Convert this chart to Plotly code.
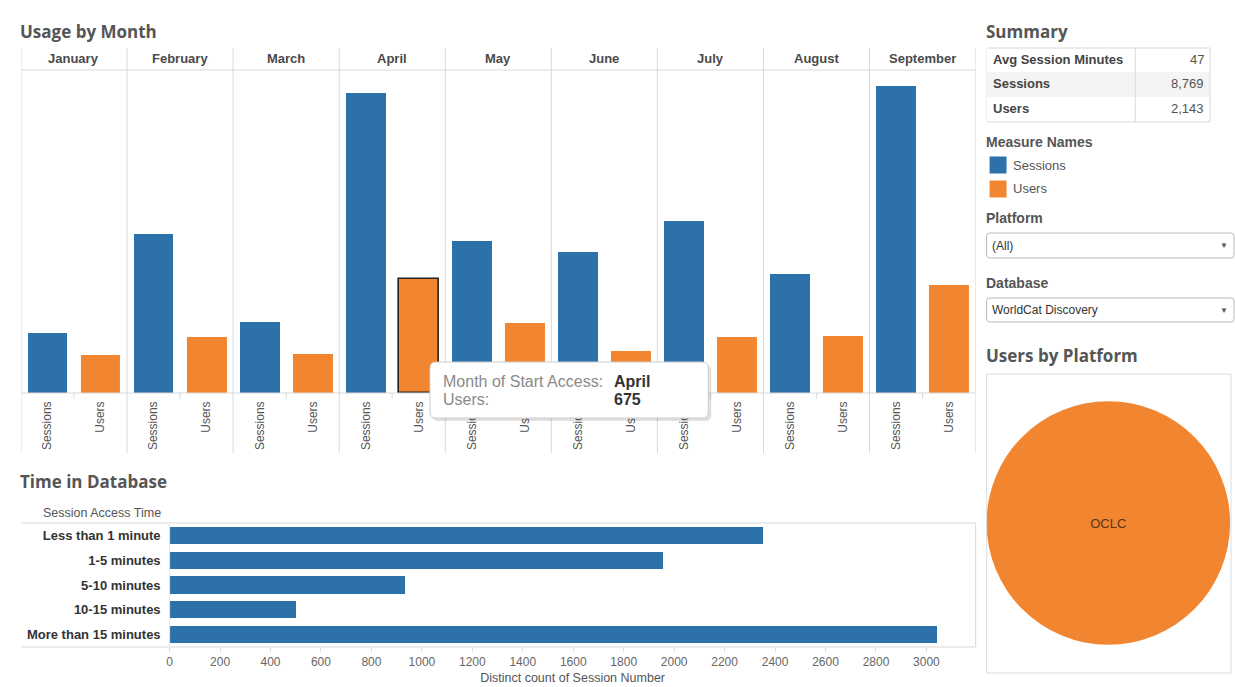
import plotly.graph_objects as go

W, H = 1235, 687


def X(px):
    return px / W


def Y(py):
    return 1 - py / H


# ---------------- data ----------------
months = ["January", "February", "March", "April", "May", "June", "July", "August", "September"]
measures = ["Sessions", "Users"]
sessions = [357, 939, 422, 1774, 901, 835, 1020, 702, 1819]
users = [223, 332, 231, 675, 412, 250, 332, 339, 641]

time_cats = ["Less than 1 minute", "1-5 minutes", "5-10 minutes", "10-15 minutes", "More than 15 minutes"]
time_counts = [2350, 1955, 930, 500, 3040]
time_ticks = list(range(0, 3001, 200))

summary_labels = ["Avg Session Minutes", "Sessions", "Users"]
summary_values = ["47", "8,769", "2,143"]

platforms = ["OCLC"]
platform_users = [2143]

platform_filter = "(All)"
database_filter = "WorldCat Discovery"

tooltip_month = "April"
tooltip_users = 675

# ---------------- styles ----------------
BLUE = "#2C71A9"
ORANGE = "#F2852F"
GRID = "#D9D9D9"
FONT = "Liberation Sans"
TFONT = "Open Sans"

fig = go.Figure()

n = len(months)
x_s = [2 * i + 0.5 for i in range(n)]
x_u = [2 * i + 1.5 for i in range(n)]

fig.add_trace(go.Bar(
    x=x_s, y=sessions, width=0.75, name="Sessions",
    marker=dict(color=BLUE, line=dict(width=0)),
    xaxis="x", yaxis="y", hoverinfo="skip", showlegend=False,
))
fig.add_trace(go.Bar(
    x=x_u, y=users, width=0.75, name="Users",
    marker=dict(color=ORANGE,
                line=dict(width=[1.6 if m == tooltip_month else 0 for m in months],
                          color="#222222")),
    xaxis="x", yaxis="y", hoverinfo="skip", showlegend=False,
))

fig.add_trace(go.Bar(
    x=time_counts, y=time_cats, orientation="h", width=0.7,
    marker=dict(color=BLUE, line=dict(width=0)),
    xaxis="x2", yaxis="y2", hoverinfo="skip", showlegend=False,
))

fig.add_trace(go.Pie(
    labels=platforms, values=platform_users,
    marker=dict(colors=[ORANGE], line=dict(width=0)),
    domain=dict(x=[X(986), X(1230)], y=[Y(645), Y(401)]),
    textinfo="label", textposition="inside", insidetextorientation="horizontal",
    textfont=dict(family=FONT, size=13, color="#5e3418"),
    sort=False, hoverinfo="skip", showlegend=False,
))

tickvals = []
ticktext = []
for i in range(n):
    tickvals += [x_s[i], x_u[i]]
    ticktext += measures

fig.update_layout(
    width=W, height=H,
    margin=dict(l=0, r=0, t=0, b=0),
    paper_bgcolor="white", plot_bgcolor="white",
    bargap=0, barmode="overlay",
    font=dict(family=FONT, size=12, color="#555555"),
    xaxis=dict(
        domain=[X(18), X(975)], range=[0, 2 * n], anchor="y",
        tickmode="array", tickvals=tickvals, ticktext=ticktext, tickangle=-90,
        tickfont=dict(family=FONT, size=12, color="#555555"),
        showgrid=False, zeroline=False, showline=False, ticks="",
        ticklabelstandoff=5, fixedrange=True,
    ),
    yaxis=dict(
        domain=[Y(393), Y(70)], range=[0, 1912], anchor="x",
        visible=False, fixedrange=True,
    ),
    xaxis2=dict(
        domain=[X(167), X(975)], range=[0, 3195], anchor="y2",
        tickmode="array", tickvals=time_ticks,
        tickfont=dict(family=FONT, size=12, color="#666666"),
        ticks="outside", ticklen=4, tickcolor="#DDDDDD",
        showgrid=False, zeroline=False, showline=False,
        title=dict(text="Distinct count of Session Number",
                   font=dict(family=FONT, size=12.5, color="#555555"), standoff=4),
        fixedrange=True,
    ),
    yaxis2=dict(
        domain=[Y(647), Y(523)], anchor="x2",
        categoryorder="array", categoryarray=time_cats, autorange="reversed",
        tickfont=dict(family=FONT, size=13, color="#333333", weight="bold"),
        showgrid=False, zeroline=False, showline=False, ticks="",
        ticklabelstandoff=8, fixedrange=True,
    ),
)

shapes = []
annotations = []


def hline(x0, x1, y, color=GRID, w=1):
    shapes.append(dict(type="line", xref="paper", yref="paper",
                       x0=X(x0), x1=X(x1), y0=Y(y), y1=Y(y),
                       line=dict(color=color, width=w)))


def vline(x, y0, y1, color=GRID, w=1):
    shapes.append(dict(type="line", xref="paper", yref="paper",
                       x0=X(x), x1=X(x), y0=Y(y0), y1=Y(y1),
                       line=dict(color=color, width=w)))


def text(x, y, s, size=12, color="#555555", bold=False, anchor="left", family=FONT, weight=None):
    shift = -2 if anchor == "left" else 0
    annotations.append(dict(
        x=X(x), y=Y(y), xref="paper", yref="paper", text=s, showarrow=False,
        xanchor=anchor, yanchor="middle", xshift=shift, borderpad=0,
        font=dict(family=family, size=size, color=color,
                  weight=weight if weight else ("bold" if bold else "normal")),
    ))


# ---- Usage by Month ----
text(18, 32, "Usage by Month", size=17, color="#555555", family=TFONT, weight=700)
hline(18, 975, 70)
hline(18, 975, 393)
for k in range(0, 2 * n + 1, 2):
    shapes.append(dict(type="line", xref="x", yref="paper", x0=k, x1=k,
                       y0=Y(453), y1=Y(48), line=dict(color=GRID, width=1)))
for k in range(1, 2 * n, 2):
    shapes.append(dict(type="line", xref="x", yref="paper", x0=k, x1=k,
                       y0=Y(399), y1=Y(393), line=dict(color=GRID, width=1)))
for i, m in enumerate(months):
    annotations.append(dict(x=2 * i + 1, y=Y(59), xref="x", yref="paper", text=m,
                            showarrow=False, xanchor="center", yanchor="middle",
                            font=dict(family=FONT, size=13, color="#4a4a4a", weight="bold")))

# ---- Time in Database ----
text(18, 481, "Time in Database", size=17, color="#555555", family=TFONT, weight=700)
text(159, 513, "Session Access Time", size=12.5, color="#555555", anchor="right")
hline(18, 975, 523)
hline(18, 975, 647)
vline(975, 523, 647)
vline(167, 523, 647, color="#E4E4E4")

# ---- Summary ----
text(986, 32, "Summary", size=17, color="#555555", family=TFONT, weight=700)
shapes.append(dict(type="rect", xref="paper", yref="paper",
                   x0=X(986), x1=X(1210), y0=Y(97), y1=Y(72),
                   fillcolor="#F4F4F4", line=dict(width=0), layer="below"))
hline(986, 1210, 48)
hline(986, 1210, 122)
vline(1135, 48, 122)
vline(1210, 48, 122)
vline(986, 48, 122, color="#EEEEEE")
row_y = [60, 84, 109]
for lab, val, yy in zip(summary_labels, summary_values, row_y):
    text(993, yy, lab, size=13, color="#444444", bold=True)
    text(1205, yy, val, size=13, color="#555555", anchor="right")

# ---- Legend ----
text(986, 142, "Measure Names", size=14, color="#555555", bold=True)
for (lab, col, yy) in [(measures[0], BLUE, 165), (measures[1], ORANGE, 189)]:
    shapes.append(dict(type="rect", xref="paper", yref="paper",
                       x0=X(989), x1=X(1006), y0=Y(yy + 8.5), y1=Y(yy - 8.5),
                       fillcolor=col, line=dict(width=0)))
    text(1013, yy, lab, size=13, color="#555555")


def rounded_rect(x0, y0, x1, y1, r, fill, line_color, lw=1):
    rx, ry = r / W, r / H
    a0, a1 = X(x0), X(x1)
    b0, b1 = Y(y0), Y(y1)
    path = (f"M {a0 + rx},{b0} L {a1 - rx},{b0} Q {a1},{b0} {a1},{b0 - ry} "
            f"L {a1},{b1 + ry} Q {a1},{b1} {a1 - rx},{b1} "
            f"L {a0 + rx},{b1} Q {a0},{b1} {a0},{b1 + ry} "
            f"L {a0},{b0 - ry} Q {a0},{b0} {a0 + rx},{b0} Z")
    shapes.append(dict(type="path", xref="paper", yref="paper", path=path,
                       fillcolor=fill, line=dict(color=line_color, width=lw), layer="above"))


# ---- Filters ----
text(986, 218, "Platform", size=14, color="#555555", bold=True)
rounded_rect(986, 233, 1234, 258, 3, "white", "#BBBBBB")
text(992, 245.5, platform_filter, size=12, color="#333333")
text(1224, 245.5, "▼", size=8, color="#555555", anchor="center")

text(986, 283, "Database", size=14, color="#555555", bold=True)
rounded_rect(986, 298, 1234, 322, 3, "white", "#BBBBBB")
text(992, 310, database_filter, size=12, color="#333333")
text(1224, 310, "▼", size=8, color="#555555", anchor="center")

# ---- Users by Platform ----
text(986, 356, "Users by Platform", size=17, color="#555555", family=TFONT, weight=700)
shapes.append(dict(type="rect", xref="paper", yref="paper",
                   x0=X(986), x1=X(1231), y0=Y(673), y1=Y(374),
                   line=dict(color="#DDDDDD", width=1), fillcolor="rgba(0,0,0,0)"))

# ---- Tooltip ----
rounded_rect(430, 365, 710, 421, 6, "rgba(0,0,0,0.12)", "rgba(0,0,0,0)", 0)
rounded_rect(428, 362, 707, 418, 6, "white", "#CCCCCC")
text(442, 381, "Month of Start Access:", size=16, color="#8A8A8A")
text(613, 381, tooltip_month, size=16, color="#333333", bold=True)
text(442, 399, "Users:", size=16, color="#8A8A8A")
text(613, 399, f"{tooltip_users}", size=16, color="#333333", bold=True)

fig.update_layout(shapes=shapes, annotations=annotations)

fig.write_html("out.html", config={"displayModeBar": False})
